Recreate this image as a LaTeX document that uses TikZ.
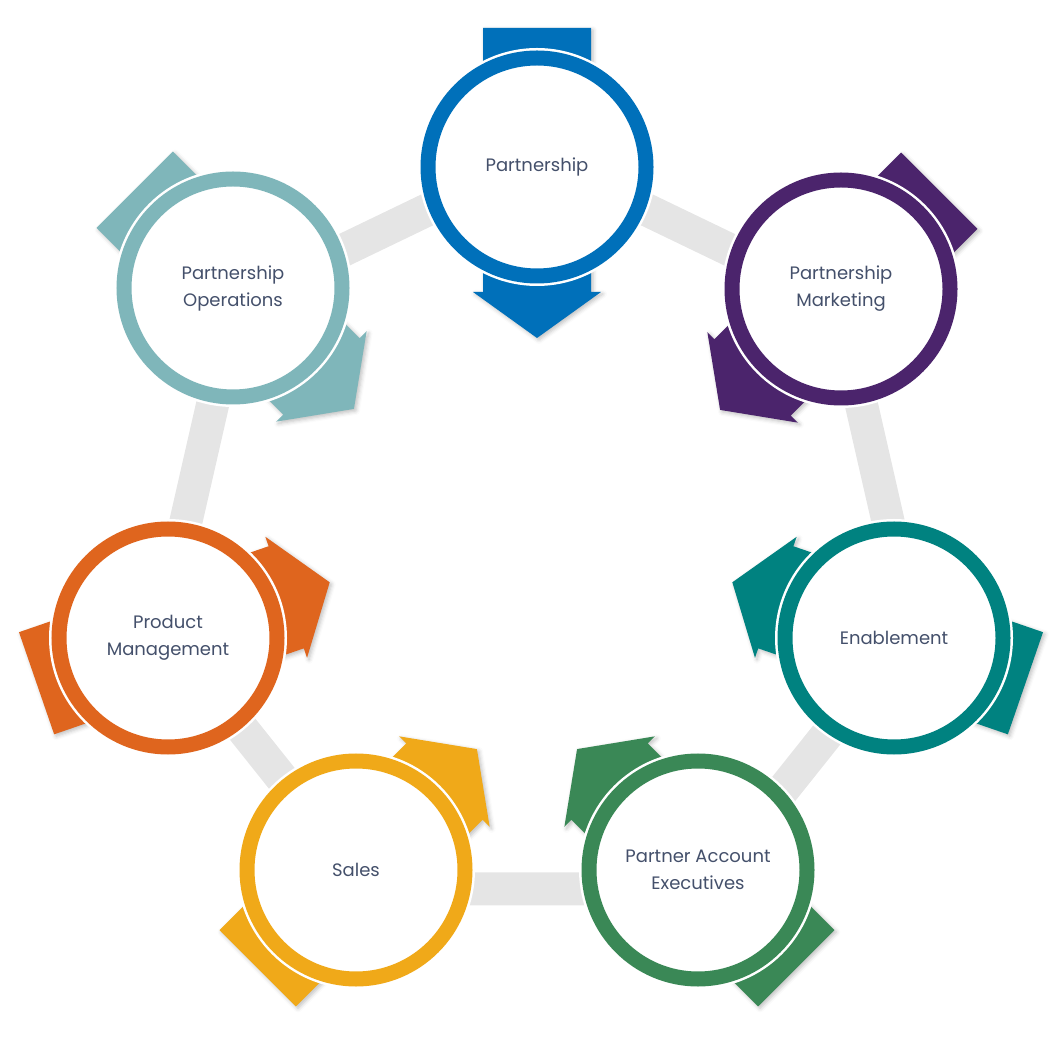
\documentclass[tikz,border=0pt]{standalone}
\usepackage{fontspec}
\setmainfont{Poppins}
\usetikzlibrary{positioning,backgrounds,shadows.blur}
\definecolor{cycblue}{HTML}{0070BA}
\definecolor{cycpurple}{HTML}{4B246C}
\definecolor{cycteal}{HTML}{008280}
\definecolor{cycgreen}{HTML}{3A8856}
\definecolor{cycgold}{HTML}{F0A919}
\definecolor{cycorange}{HTML}{DF651E}
\definecolor{cycsage}{HTML}{7FB6BA}
\definecolor{tracklight}{HTML}{E5E5E5}
\definecolor{labelslate}{HTML}{44506B}
\tikzset{
  stage/.style={circle, minimum size=218pt, inner sep=0pt, fill=white, line width=15pt,
    preaction={draw=white, line width=20pt}, text=labelslate, align=center,
    font=\fontsize{18}{27}\selectfont},
  track/.style={draw=tracklight, line width=33pt},
  flowarrow/.style={blur shadow={shadow xshift=2pt, shadow yshift=-2pt,
    shadow blur radius=4pt, shadow opacity=25}}
}

\begin{document}
\begin{tikzpicture}[x=1pt, y=1pt]
  \useasboundingbox (0,0) rectangle (1064,1036);

  % the seven stages
  \node [stage, draw=cycblue] (p) at (537,869) {Partnership};
  \node [stage, draw=cycpurple] (mkt) at (841,747) {Partnership\\Marketing};
  \node [stage, draw=cycteal] (enab) at (894,398) {Enablement};
  \node [stage, draw=cycgreen] (pae) at (698,166) {Partner Account\\Executives};
  \node [stage, draw=cycgold] (sales) at (356,166) {Sales};
  \node [stage, draw=cycorange] (prod) at (168,398) {Product\\Management};
  \node [stage, draw=cycsage] (ops) at (233,748) {Partnership\\Operations};

  \begin{scope}[on background layer]
    % grey heptagon track
    \coordinate (hub) at (537,494);
    \foreach \k in {0,...,6}
      \coordinate (h\k) at ([shift={(90-\k*360/7:385)}]hub);
    \draw [track] (h0) -- (h1) -- (h2) -- (h3) -- (h4) -- (h5) -- (h6) -- cycle;

    % arrows through each stage
    \foreach \n/\a/\c in {p/270/cycblue, mkt/225/cycpurple, enab/161/cycteal,
        pae/135/cycgreen, sales/45/cycgold, prod/19/cycorange, ops/-45/cycsage}
      \fill [\c, flowarrow, shift={(\n.center)}, rotate=\a]
        (-139,-54) -- (125,-54) -- (125,-64) -- (171,0) -- (125,64) -- (125,54) -- (-139,54) -- cycle;
  \end{scope}
\end{tikzpicture}
\end{document}
